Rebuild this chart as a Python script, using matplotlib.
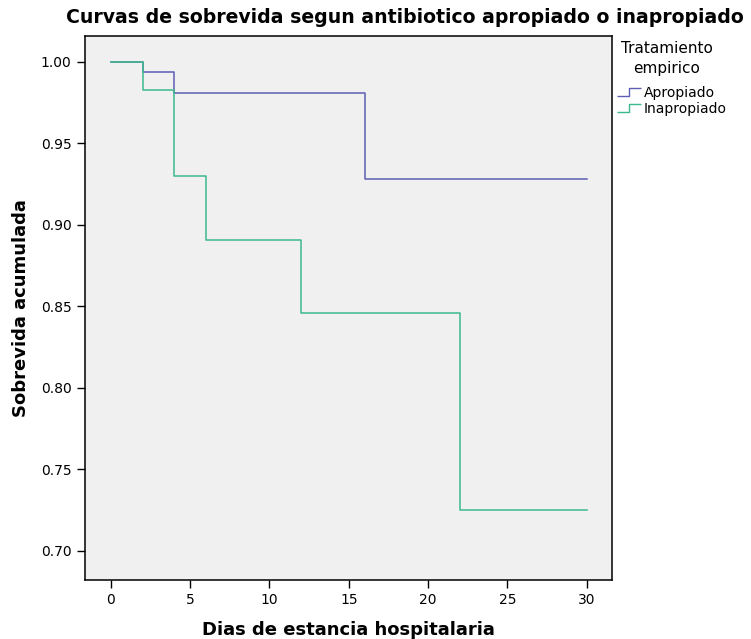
import numpy as np
import matplotlib.pyplot as plt
from matplotlib.path import Path
from matplotlib.lines import Line2D

# Kaplan-Meier steps
dias_apropiado = [0, 2, 4, 16, 30]
surv_apropiado = [1.000, 0.994, 0.981, 0.928, 0.928]
dias_inapropiado = [0, 2, 4, 6, 12, 22, 30]
surv_inapropiado = [1.000, 0.983, 0.930, 0.891, 0.846, 0.725, 0.725]

x_ticks = [0, 5, 10, 15, 20, 25, 30]
y_ticks = [0.70, 0.75, 0.80, 0.85, 0.90, 0.95, 1.00]

c_apr = '#5c5fb3'
c_inapr = '#3dba8c'

fig = plt.figure(figsize=(7.51, 6.39), dpi=100)
ax = fig.add_axes([0.113, 0.092, 0.702, 0.852])
ax.set_facecolor('#f0f0f0')

ax.step(dias_apropiado, surv_apropiado, where='post', color=c_apr, lw=1.1)
ax.step(dias_inapropiado, surv_inapropiado, where='post', color=c_inapr, lw=1.1)

ax.set_xlim(-1.64, 31.6)
ax.set_ylim(0.682, 1.016)
ax.set_xticks(x_ticks)
ax.set_yticks(y_ticks)
ax.set_yticklabels([f'{v:.2f}' for v in y_ticks])
ax.tick_params(labelsize=10, length=6, width=1, direction='out')
for s in ax.spines.values():
    s.set_linewidth(1.1)

ax.set_xlabel('Dias de estancia hospitalaria', fontsize=13, fontweight='bold', labelpad=10)
ax.set_ylabel('Sobrevida acumulada', fontsize=13, fontweight='bold', labelpad=8)
fig.text(0.539, 0.972, 'Curvas de sobrevida segun antibiotico apropiado o inapropiado',
         ha='center', va='center', fontsize=13.6, fontweight='bold')

# legend title + entries with small step icons
fig.text(0.888, 0.908, 'Tratamiento\nempirico', ha='center', va='center',
         fontsize=11, linespacing=1.45, multialignment='center')
step = Path([(-1, -0.3), (0, -0.3), (0, 0.3), (1, 0.3)],
            [Path.MOVETO, Path.LINETO, Path.LINETO, Path.LINETO])
handles = [Line2D([], [], ls='none', marker=step, markersize=17, markerfacecolor='none',
                  markeredgecolor=c, markeredgewidth=1) for c in (c_apr, c_inapr)]
leg = fig.legend(handles, ['Apropiado', 'Inapropiado'],
                 loc='upper left', bbox_to_anchor=(0.812, 0.876), frameon=False,
                 fontsize=10, handlelength=1.8, handletextpad=0.15,
                 labelspacing=0.15, borderpad=0.0)

fig.savefig('out.png', dpi=100)
